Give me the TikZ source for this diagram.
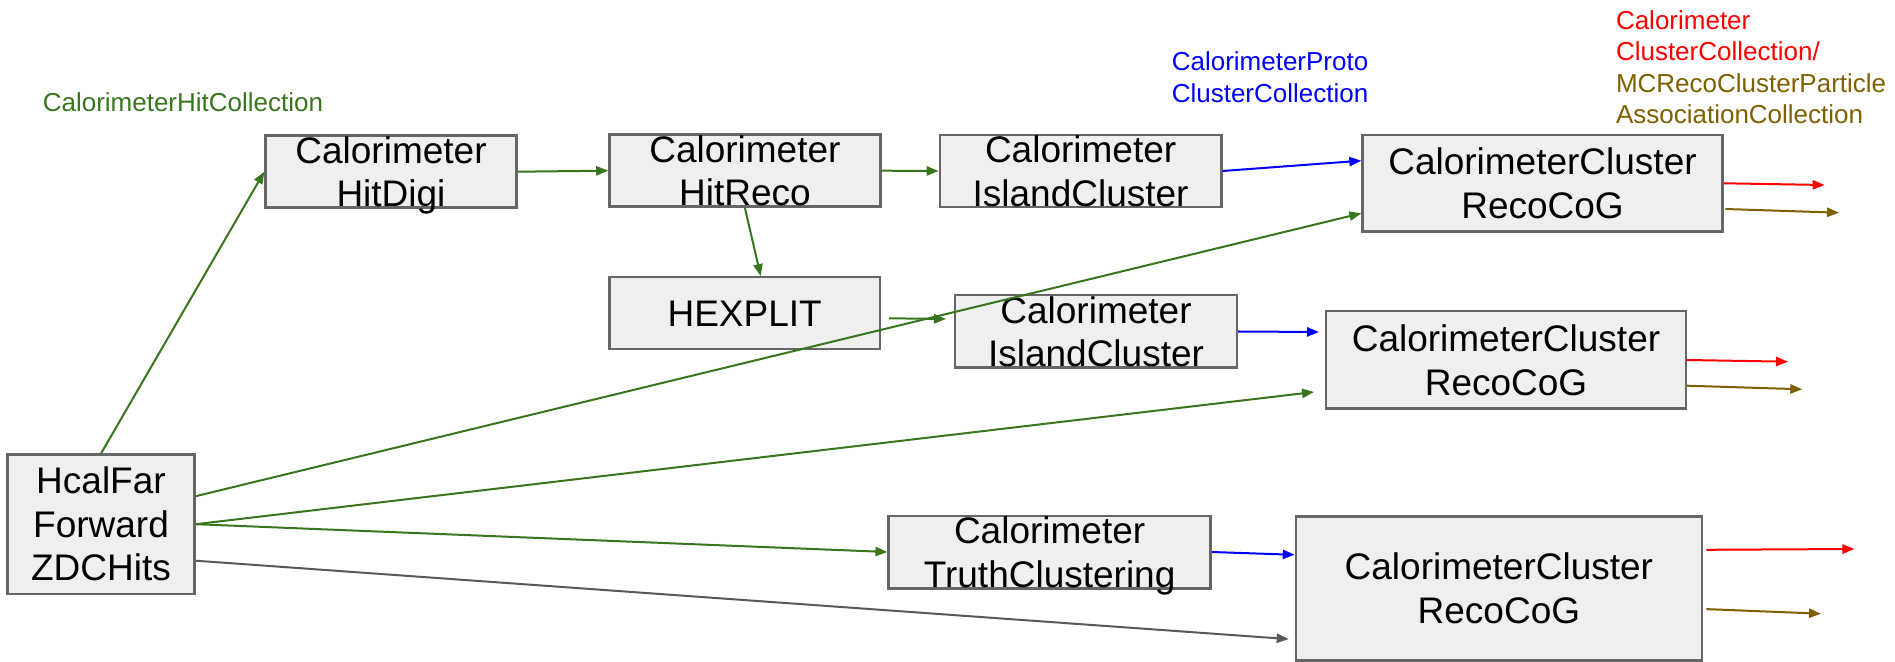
\documentclass[tikz,border=0pt]{standalone}
\usepackage{fontspec}
\setmainfont{Liberation Sans}
\usetikzlibrary{arrows.meta}

\definecolor{flowgreen}{HTML}{38761D}
\definecolor{protoblue}{HTML}{0000FF}
\definecolor{clusred}{HTML}{FF0000}
\definecolor{assocbrown}{HTML}{7F6000}
\definecolor{hitgray}{HTML}{595959}
\definecolor{boxfill}{HTML}{EFEFEF}
\definecolor{boxline}{HTML}{666666}

% centred lines, first baseline raised by #1 above the node centre, no height of its own
\newcommand\boxlines[2]{\smash{\raisebox{#1}{\vtop{\halign{\hfil##\hfil\cr#2\crcr}}}}}

\tikzset{
  procbox/.style={draw=boxline, line width=1.2pt, fill=boxfill, inner sep=0pt,
    font=\fontsize{18.5pt}{21.75pt}\selectfont},
  flow/.style={line width=1pt, -{Triangle[length=6pt,width=4.6pt]}},
  collname/.style={inner sep=0pt, anchor=base west}
}

\begin{document}
\begin{tikzpicture}[x=0.5pt,y=-0.5pt]
\useasboundingbox (0,0) rectangle (1895,662);

% processing stages
\node[procbox, minimum width=125.5pt, minimum height=36pt] (digi) at (391,171.7)
  {\boxlines{4.23pt}{Calorimeter\cr HitDigi}};
\node[procbox, minimum width=135.5pt, minimum height=36pt] (reco) at (744.9,170.7)
  {\boxlines{4.23pt}{Calorimeter\cr HitReco}};
\node[procbox, minimum width=140.8pt, minimum height=36pt] (isl1) at (1080.6,171)
  {\boxlines{4.23pt}{Calorimeter\cr IslandCluster}};
\node[procbox, minimum width=135.3pt, minimum height=36pt] (hexplit) at (744.7,313.3)
  {\boxlines{-6.63pt}{HEXPLIT}};
\node[procbox, minimum width=140.8pt, minimum height=36.2pt] (isl2) at (1096,331.5)
  {\boxlines{4.23pt}{Calorimeter\cr IslandCluster}};
\node[procbox, minimum width=180pt, minimum height=48.3pt] (cog1) at (1542.5,183.3)
  {\boxlines{4.23pt}{CalorimeterCluster\cr RecoCoG}};
\node[procbox, minimum width=179.8pt, minimum height=48.7pt] (cog2) at (1506,360)
  {\boxlines{4.23pt}{CalorimeterCluster\cr RecoCoG}};
\node[procbox, minimum width=93.5pt, minimum height=69.5pt] (hcal) at (101,524.2)
  {\boxlines{15.2pt}{HcalFar\cr Forward\cr ZDCHits}};
\node[procbox, minimum width=161pt, minimum height=36.3pt] (truth) at (1049.6,552)
  {\boxlines{4.23pt}{Calorimeter\cr TruthClustering}};
\node[procbox, minimum width=203pt, minimum height=72pt] (cog3) at (1498.9,588.3)
  {\boxlines{4.23pt}{CalorimeterCluster\cr RecoCoG}};

% collection names
\node[collname, flowgreen, font=\fontsize{13pt}{16pt}\selectfont] (hitcoll) at (42.4,111.7)
  {CalorimeterHitCollection};
\node[collname, protoblue, font=\fontsize{13pt}{16pt}\selectfont] (protocoll) at (1171.4,70.7)
  {\vtop{\hbox{CalorimeterProto}\hbox{ClusterCollection}}};
\node[collname, font=\fontsize{13pt}{15.75pt}\selectfont] (clustcoll) at (1615.6,29.3)
  {\vtop{\hbox{\textcolor{clusred}{Calorimeter}}\hbox{\textcolor{clusred}{ClusterCollection/}}%
   \hbox{\textcolor{assocbrown}{MCRecoClusterParticle}}\hbox{\textcolor{assocbrown}{AssociationCollection}}}};

% hit flow
\draw[flow, flowgreen] (hcal.north) -- (digi.west);
\draw[flow, flowgreen] (digi.east) -- (reco.west);
\draw[flow, flowgreen] (reco.east) -- (isl1.west);
\draw[flow, flowgreen] (reco.south) -- ([xshift=8pt]hexplit.north);
\draw[flow, flowgreen] ([xshift=4pt,yshift=-2.5pt]hexplit.east) -- ([xshift=-4pt,yshift=6.25pt]isl2.west);
\draw[flow, flowgreen] ([yshift=14pt]hcal.east) -- ([yshift=-15pt]cog1.west);
\draw[flow, flowgreen] (hcal.east) -- ([xshift=-5.5pt,yshift=-16pt]cog2.west);
\draw[flow, flowgreen] (hcal.east) -- (truth.west);
\draw[flow, hitgray] ([yshift=-18.25pt]hcal.east) -- ([xshift=-3pt,yshift=-25.4pt]cog3.west);

% proto-cluster flow
\draw[flow, protoblue] (isl1.east) -- ([yshift=11.3pt]cog1.west);
\draw[flow, protoblue] (isl2.east) -- ([xshift=-3pt,yshift=14pt]cog2.west);
\draw[flow, protoblue] (truth.east) -- ([yshift=16.75pt]cog3.west);

% cluster and association outputs
\coordinate (out1r) at (1824.6,185);
\coordinate (out1b) at (1839,212.7);
\coordinate (out2r) at (1788,361.7);
\coordinate (out2b) at (1802.3,389.3);
\coordinate (out3r) at (1854.4,549);
\coordinate (out3b) at (1821,613.7);
\draw[flow, clusred] (cog1.east) -- (out1r);
\draw[flow, assocbrown] ([xshift=0.8pt,yshift=-12.85pt]cog1.east) -- (out1b);
\draw[flow, clusred] (cog2.east) -- (out2r);
\draw[flow, assocbrown] ([yshift=-12.85pt]cog2.east) -- (out2b);
\draw[flow, clusred] ([xshift=1.6pt,yshift=19.25pt]cog3.east) -- (out3r);
\draw[flow, assocbrown] ([xshift=1.6pt,yshift=-10.4pt]cog3.east) -- (out3b);
\end{tikzpicture}
\end{document}
